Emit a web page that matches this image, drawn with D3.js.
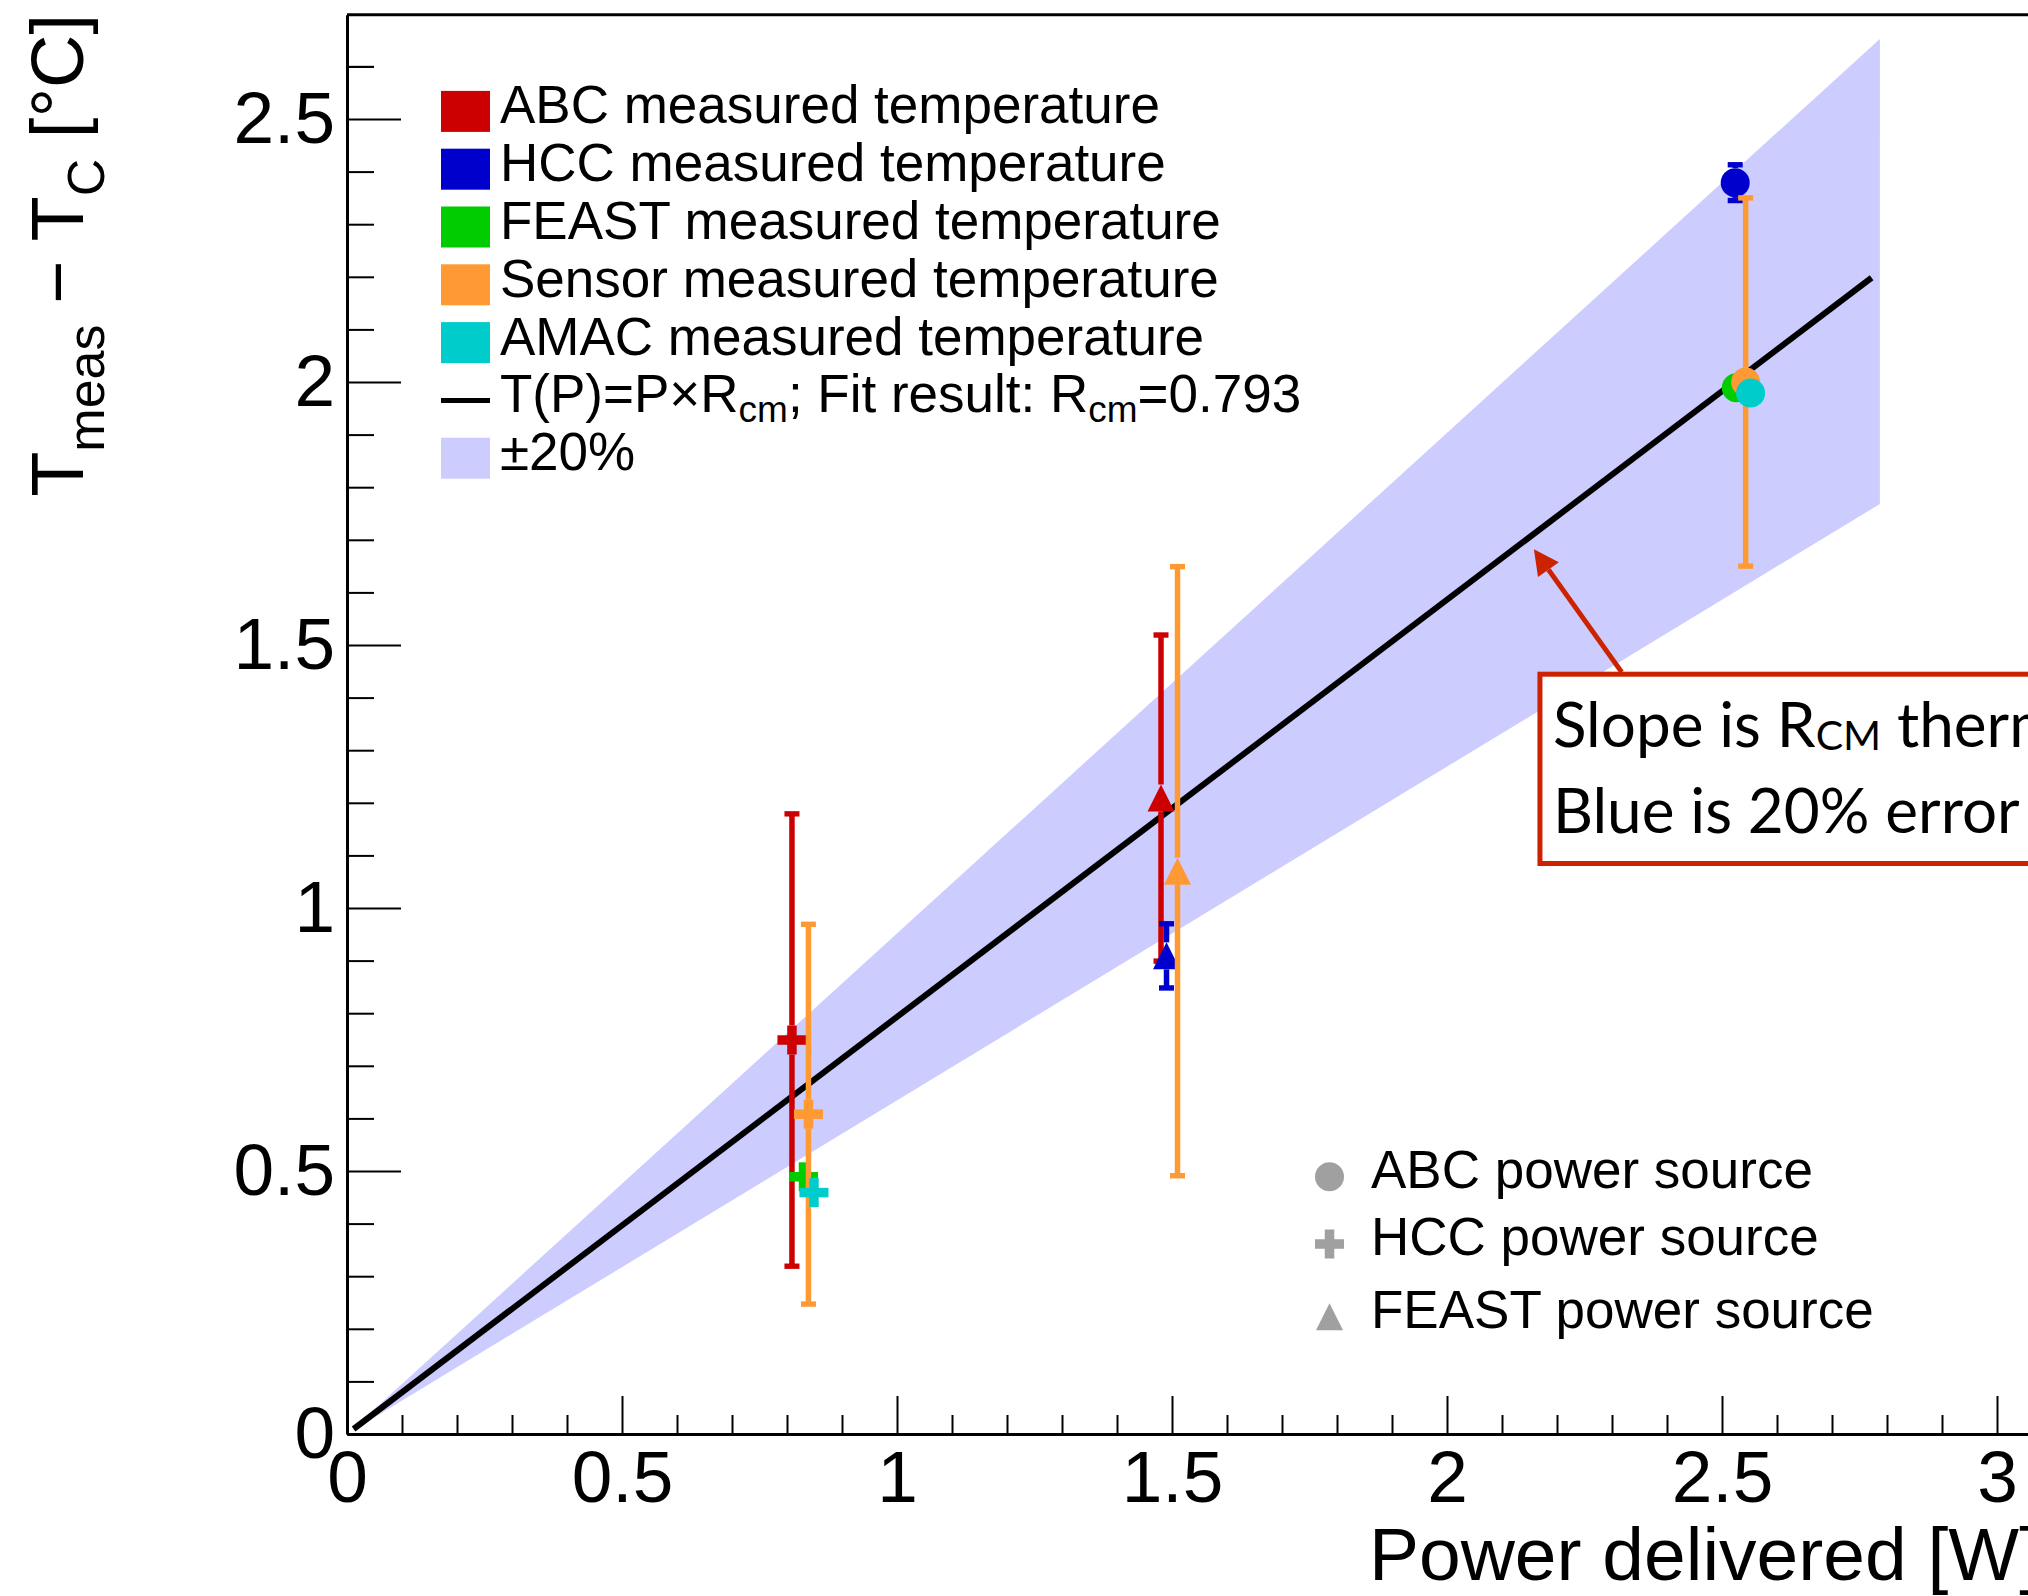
<!DOCTYPE html>
<html>
<head>
<meta charset="utf-8">
<script src="https://cdn.jsdelivr.net/npm/d3@7"></script>
<style>
html, body { margin: 0; padding: 0; background: #fff; }
svg { display: block; }
text { font-family: "Liberation Sans", Arial, sans-serif; fill: #000; }
</style>
</head>
<body>
<svg width="2028" height="1596"></svg>
<script>
// measured T_meas - T_C per sensor, for each chip used as the power source
var abcPower = [0.809, 1.480];
var abcTemp = [0.749, 1.209];
var abcErr = [0.430, 0.310];
var abcSource = ["HCC", "FEAST"];

var hccPower = [1.490, 2.524];
var hccTemp = [0.909, 2.379];
var hccErr = [0.061, 0.034];
var hccSource = ["FEAST", "ABC"];

var feastPower = [0.830, 2.526];
var feastTemp = [0.489, 1.989];
var feastErr = [0, 0];
var feastSource = ["HCC", "ABC"];

var sensorPower = [0.839, 1.510, 2.543];
var sensorTemp = [0.608, 1.070, 2.000];
var sensorErr = [0.361, 0.579, 0.350];
var sensorSource = ["HCC", "FEAST", "ABC"];

var amacPower = [0.849, 2.552];
var amacTemp = [0.459, 1.979];
var amacErr = [0, 0];
var amacSource = ["HCC", "ABC"];

var sensorNames = ["ABC", "HCC", "FEAST", "Sensor", "AMAC"];
var sourceNames = ["ABC", "HCC", "FEAST"];
var colors = ["#cc0000", "#0000cc", "#00cc00", "#ff9933", "#00cccc"];

// fit T(P) = P x R_cm and the +-20% band
var fitSlope = 0.793;
var bandFrac = 0.2;
var fitFrom = 0.012, fitTo = 2.772, bandTo = 2.787;

var xMajor = [0, 0.5, 1, 1.5, 2, 2.5, 3];
var yMajor = [0, 0.5, 1, 1.5, 2, 2.5];

var svg = d3.select("svg"),
    width = +svg.attr("width"),
    height = +svg.attr("height");

var x = d3.scaleLinear().domain([0, 3.08]).range([347, 347 + 550 * 3.08]);
var y = d3.scaleLinear().domain([0, 2.698]).range([1434, 1434 - 526 * 2.698]);

var series = [
    {power: abcPower, temp: abcTemp, err: abcErr, source: abcSource},
    {power: hccPower, temp: hccTemp, err: hccErr, source: hccSource},
    {power: feastPower, temp: feastTemp, err: feastErr, source: feastSource},
    {power: sensorPower, temp: sensorTemp, err: sensorErr, source: sensorSource},
    {power: amacPower, temp: amacTemp, err: amacErr, source: amacSource}
];

// band
var band = [fitFrom, bandTo];
svg.append("path")
    .attr("d", d3.area()
        .x(function(p) { return x(p); })
        .y0(function(p) { return y(p * fitSlope * (1 - bandFrac)); })
        .y1(function(p) { return y(p * fitSlope * (1 + bandFrac)); })(band))
    .attr("fill", "#ccccff");

// fit line
svg.append("path")
    .attr("d", d3.line()
        .x(function(p) { return x(p); })
        .y(function(p) { return y(p * fitSlope); })([fitFrom, fitTo]))
    .attr("fill", "none")
    .attr("stroke", "#000")
    .attr("stroke-width", 6);

function marker(g, shape, cx, cy, color) {
    if (shape == "ABC") {
        g.append("circle").attr("cx", cx).attr("cy", cy).attr("r", 14.5).attr("fill", color);
    } else if (shape == "HCC") {
        g.append("rect").attr("x", cx - 14.5).attr("y", cy - 4.75).attr("width", 29).attr("height", 9.5).attr("fill", color);
        g.append("rect").attr("x", cx - 4.75).attr("y", cy - 14.5).attr("width", 9.5).attr("height", 29).attr("fill", color);
    } else {
        g.append("path")
            .attr("d", "M" + (cx - 13.5) + "," + (cy + 13.5) + "L" + (cx + 13.5) + "," + (cy + 13.5) + "L" + cx + "," + (cy - 13.5) + "Z")
            .attr("fill", color);
    }
}

// error bars + markers, one sensor at a time
series.forEach(function(s, k) {
    var g = svg.append("g");
    s.power.forEach(function(p, i) {
        var cx = x(p), cy = y(s.temp[i]);
        var gap = s.source[i] == "FEAST" ? 13.5 : 14.5;
        if (s.err[i] > 0) {
            var top = y(s.temp[i] + s.err[i]), bot = y(s.temp[i] - s.err[i]);
            if (cy - gap > top) {
                g.append("line").attr("x1", cx).attr("x2", cx).attr("y1", top).attr("y2", cy - gap)
                    .attr("stroke", colors[k]).attr("stroke-width", 5.5);
            }
            if (bot > cy + gap) {
                g.append("line").attr("x1", cx).attr("x2", cx).attr("y1", cy + gap).attr("y2", bot)
                    .attr("stroke", colors[k]).attr("stroke-width", 5.5);
            }
            [top, bot].forEach(function(yy) {
                g.append("line").attr("x1", cx - 7.5).attr("x2", cx + 7.5).attr("y1", yy).attr("y2", yy)
                    .attr("stroke", colors[k]).attr("stroke-width", 5.4);
            });
        }
        marker(g, s.source[i], cx, cy, colors[k]);
    });
});

// axes, ROOT style ticks inside the frame
var fmt = function(d) { return String(d); };
var xMinor = d3.range(0, 3.081, 0.1).filter(function(d) { return Math.abs(d * 2 - Math.round(d * 2)) > 1e-6; });
var yMinor = d3.range(0, 2.698, 0.1).filter(function(d) { return Math.abs(d * 2 - Math.round(d * 2)) > 1e-6; });

var xAxis = svg.append("g").attr("transform", "translate(0,1434)")
    .call(d3.axisBottom(x).tickValues(xMajor).tickSizeInner(-38).tickSizeOuter(0).tickPadding(16).tickFormat(fmt));
svg.append("g").attr("transform", "translate(0,1434)")
    .call(d3.axisBottom(x).tickValues(xMinor).tickSizeInner(-19).tickSizeOuter(0).tickFormat(""))
    .select(".domain").remove();

var yAxis = svg.append("g").attr("transform", "translate(347,0)")
    .call(d3.axisLeft(y).tickValues(yMajor).tickSizeInner(-54).tickSizeOuter(0).tickPadding(12).tickFormat(fmt));
svg.append("g").attr("transform", "translate(347,0)")
    .call(d3.axisLeft(y).tickValues(yMinor.concat([2.6])).tickSizeInner(-27).tickSizeOuter(0).tickFormat(""))
    .select(".domain").remove();

svg.selectAll(".tick line").attr("stroke", "#000").attr("stroke-width", 2);
svg.selectAll(".domain").attr("stroke", "#000").attr("stroke-width", 3);
svg.selectAll(".tick text").style("font-family", "Liberation Sans, Arial, sans-serif").style("font-size", "73px").attr("fill", "#000");

// top frame line
svg.append("line").attr("x1", 347).attr("x2", x(3.08)).attr("y1", y(2.698)).attr("y2", y(2.698))
    .attr("stroke", "#000").attr("stroke-width", 3);

// axis titles
svg.append("text")
    .attr("x", 2040).attr("y", 1580)
    .attr("text-anchor", "end")
    .style("font-size", "75px")
    .text("Power delivered [W]");

var yt = svg.append("text")
    .attr("transform", "translate(82.6,14) rotate(-90)")
    .attr("text-anchor", "end")
    .style("font-size", "74px");
yt.append("tspan").text("T");
yt.append("tspan").attr("dy", 21).style("font-size", "52px").text("meas");
yt.append("tspan").attr("dy", -21).text(" \u2212 T");
yt.append("tspan").attr("dy", 21).style("font-size", "52px").text("C");
yt.append("tspan").attr("dy", -21).text(" [\u00b0C]");

// legend of measured sensors
var leg = svg.append("g");
sensorNames.forEach(function(n, i) {
    var cy = 111.4 + 57.8 * i;
    leg.append("rect").attr("x", 441).attr("y", cy - 20.5).attr("width", 49).attr("height", 41).attr("fill", colors[i]);
    leg.append("text").attr("x", 500).attr("y", cy + 12).style("font-size", "53px").text(n + " measured temperature");
});
var fy = 111.4 + 57.8 * 5;
leg.append("line").attr("x1", 441).attr("x2", 490).attr("y1", fy).attr("y2", fy).attr("stroke", "#000").attr("stroke-width", 5);
var ft = leg.append("text").attr("x", 500).attr("y", fy + 12).style("font-size", "53px");
ft.append("tspan").text("T(P)=P\u00d7R");
ft.append("tspan").attr("dy", 10).style("font-size", "37px").text("cm");
ft.append("tspan").attr("dy", -10).text("; Fit result: R");
ft.append("tspan").attr("dy", 10).style("font-size", "37px").text("cm");
ft.append("tspan").attr("dy", -10).text("=" + fitSlope);
var by = 111.4 + 57.8 * 6;
leg.append("rect").attr("x", 441).attr("y", by - 20.5).attr("width", 49).attr("height", 41).attr("fill", "#ccccff");
leg.append("text").attr("x", 500).attr("y", by + 12).style("font-size", "53px").text("\u00b120%");

// legend of power sources
var leg2 = svg.append("g");
var srcY = [1176.7, 1244, 1316.7];
sourceNames.forEach(function(n, i) {
    marker(leg2, n, 1329.5, srcY[i], "#a0a0a0");
    leg2.append("text").attr("x", 1371).attr("y", srcY[i] + 11).style("font-size", "53px").text(n + " power source");
});

// annotation box with arrow onto the fit line
var red = "#cc2200";
var boxX = 2.169, boxTop = 1.4445, boxBot = 1.0846;
svg.append("rect")
    .attr("x", x(boxX)).attr("y", y(boxTop))
    .attr("width", 700).attr("height", y(boxBot) - y(boxTop))
    .attr("fill", "#fff").attr("stroke", red).attr("stroke-width", 5);

var a0 = [2.3176, 1.4485], a1 = [2.158, 1.682];
var ax0 = x(a0[0]), ay0 = y(a0[1]), ax1 = x(a1[0]), ay1 = y(a1[1]);
var ang = Math.atan2(ay1 - ay0, ax1 - ax0);
var hl = 25, hw = 12.8;
var bx = ax1 - hl * Math.cos(ang), byy = ay1 - hl * Math.sin(ang);
svg.append("line").attr("x1", ax0).attr("y1", ay0).attr("x2", bx).attr("y2", byy)
    .attr("stroke", red).attr("stroke-width", 5);
svg.append("path")
    .attr("d", "M" + ax1 + "," + ay1 +
        "L" + (bx + hw * Math.sin(ang)) + "," + (byy - hw * Math.cos(ang)) +
        "L" + (bx - hw * Math.sin(ang)) + "," + (byy + hw * Math.cos(ang)) + "Z")
    .attr("fill", red);

var note1 = svg.append("text").attr("x", x(2.1927)).attr("y", y(1.307))
    .style("font-family", "Lato, 'Open Sans', sans-serif").style("font-size", "62px");
note1.append("tspan").text("Slope is R");
note1.append("tspan").attr("dy", 3).style("font-size", "41px").text("CM");
note1.append("tspan").attr("dy", -3).text(" thermal");
svg.append("text").attr("x", x(2.1927)).attr("y", y(1.142))
    .style("font-family", "Lato, 'Open Sans', sans-serif").style("font-size", "62px")
    .text("Blue is 20% error");
</script>
</body>
</html>
